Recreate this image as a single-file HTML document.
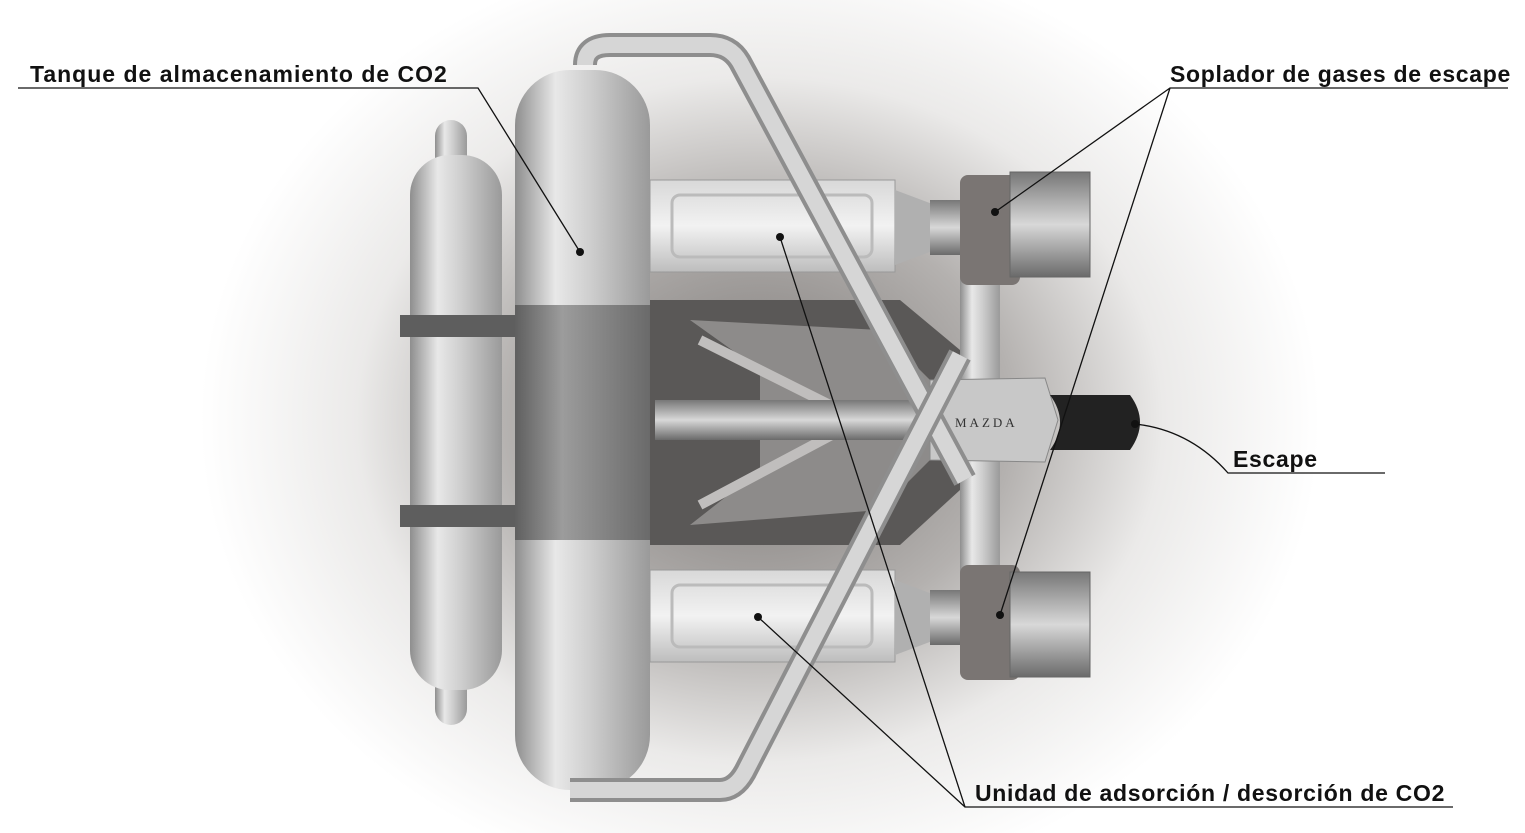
<!DOCTYPE html>
<html><head><meta charset="utf-8"><style>
html,body{margin:0;padding:0;background:#fff}
svg{display:block}
text{font-family:"Liberation Sans",sans-serif;font-weight:bold;font-size:23px;letter-spacing:0.7px;fill:#111}
</style></head><body>
<svg width="1525" height="833" viewBox="0 0 1525 833">
<defs>
<radialGradient id="bg" cx="760" cy="420" r="560" gradientUnits="userSpaceOnUse" gradientTransform="translate(760 420) scale(1 0.85) translate(-760 -420)">
<stop offset="0" stop-color="#7a7674"/><stop offset="0.45" stop-color="#b4b1af"/><stop offset="0.72" stop-color="#ebeae9"/><stop offset="1" stop-color="#fff"/></radialGradient>
<linearGradient id="tank" x1="0" x2="1"><stop offset="0" stop-color="#8e8e8e"/><stop offset="0.3" stop-color="#e8e8e8"/><stop offset="0.55" stop-color="#cfcfcf"/><stop offset="1" stop-color="#9a9a9a"/></linearGradient>
<linearGradient id="band" x1="0" x2="1"><stop offset="0" stop-color="#5f5f5f"/><stop offset="0.35" stop-color="#9c9c9c"/><stop offset="1" stop-color="#6a6a6a"/></linearGradient>
<linearGradient id="box" x1="0" y1="0" x2="0" y2="1"><stop offset="0" stop-color="#d8d8d8"/><stop offset="0.5" stop-color="#f2f2f2"/><stop offset="1" stop-color="#bdbdbd"/></linearGradient>
<linearGradient id="blow" x1="0" y1="0" x2="0" y2="1"><stop offset="0" stop-color="#777"/><stop offset="0.5" stop-color="#d8d8d8"/><stop offset="1" stop-color="#6a6a6a"/></linearGradient>
</defs>
<rect width="1525" height="833" fill="url(#bg)"/>
<path d="M650 300 L900 300 L960 350 L960 490 L900 545 L650 545 Z" fill="#5a5857"/>
<path d="M690 320 L880 330 L930 380 L930 460 L880 510 L690 525 L760 470 L760 370 Z" fill="#8d8b8a"/>
<path d="M700 340 L860 420 L700 505" fill="none" stroke="#c0bebd" stroke-width="10"/>
<rect x="655" y="400" width="340" height="40" fill="url(#blow)"/>
<rect x="960" y="270" width="40" height="310" fill="url(#tank)"/>
<path d="M930 380 L1045 378 L1058 420 L1045 462 L930 460 Z" fill="#c8c8c8" stroke="#888"/>
<text x="955" y="427" style="font-family:'Liberation Serif',serif;font-weight:normal;font-size:13px;letter-spacing:3px;fill:#333">MAZDA</text>
<path d="M1050 395 L1130 395 Q1150 422 1130 450 L1050 450 Q1070 422 1050 395Z" fill="#222"/>
<rect x="650" y="180" width="245" height="92" fill="url(#box)" stroke="#999"/>
<rect x="672" y="195" width="200" height="62" rx="8" fill="none" stroke="#bbb" stroke-width="3"/>
<rect x="650" y="570" width="245" height="92" fill="url(#box)" stroke="#999"/>
<rect x="672" y="585" width="200" height="62" rx="8" fill="none" stroke="#bbb" stroke-width="3"/>
<path d="M895 190 L935 205 L935 250 L895 265Z" fill="#b0b0b0"/>
<path d="M895 580 L935 595 L935 640 L895 655Z" fill="#b0b0b0"/>
<rect x="930" y="200" width="40" height="55" fill="url(#blow)"/>
<rect x="930" y="590" width="40" height="55" fill="url(#blow)"/>
<rect x="960" y="175" width="60" height="110" rx="8" fill="#7a7573"/>
<rect x="1010" y="172" width="80" height="105" fill="url(#blow)" stroke="#666"/>
<rect x="960" y="565" width="60" height="115" rx="8" fill="#7a7573"/>
<rect x="1010" y="572" width="80" height="105" fill="url(#blow)" stroke="#666"/>
<rect x="435" y="120" width="32" height="80" rx="16" fill="url(#tank)"/>
<rect x="435" y="640" width="32" height="85" rx="16" fill="url(#tank)"/>
<rect x="410" y="155" width="92" height="535" rx="40" fill="url(#tank)"/>
<rect x="400" y="315" width="115" height="22" fill="#5e5e5e"/>
<rect x="400" y="505" width="115" height="22" fill="#5e5e5e"/>
<path d="M585 65 Q585 45 610 45 L710 45 Q730 45 740 62 L965 480" fill="none" stroke="#8e8e8e" stroke-width="24"/>
<path d="M585 65 Q585 45 610 45 L710 45 Q730 45 740 62 L965 480" fill="none" stroke="#d6d6d6" stroke-width="16"/>
<rect x="515" y="70" width="135" height="720" rx="55" fill="url(#tank)"/>
<rect x="515" y="305" width="135" height="235" fill="url(#band)"/>
<path d="M570 790 L720 790 Q735 790 745 772 L960 355" fill="none" stroke="#8e8e8e" stroke-width="24"/>
<path d="M570 790 L720 790 Q735 790 745 772 L960 355" fill="none" stroke="#d6d6d6" stroke-width="16"/>
<g stroke="#111" stroke-width="1.3" fill="none">
<path d="M18 88 L478 88 L580 252"/>
<path d="M1508 88 L1170 88 L995 212 M1170 88 L1000 615"/>
<path d="M1385 473 L1228 473 Q1190 430 1135 424"/>
<path d="M1453 807 L965 807 L780 237 M965 807 L758 617"/>
</g>
<g fill="#111"><circle cx="580" cy="252" r="4"/><circle cx="995" cy="212" r="4"/><circle cx="1000" cy="615" r="4"/><circle cx="1135" cy="424" r="4"/><circle cx="780" cy="237" r="4"/><circle cx="758" cy="617" r="4"/></g>
<text x="30" y="82" style="letter-spacing:1px">Tanque de almacenamiento de CO2</text>
<text x="1170" y="82">Soplador de gases de escape</text>
<text x="1233" y="467">Escape</text>
<text x="975" y="801">Unidad de adsorción / desorción de CO2</text>
</svg>
</body></html>
